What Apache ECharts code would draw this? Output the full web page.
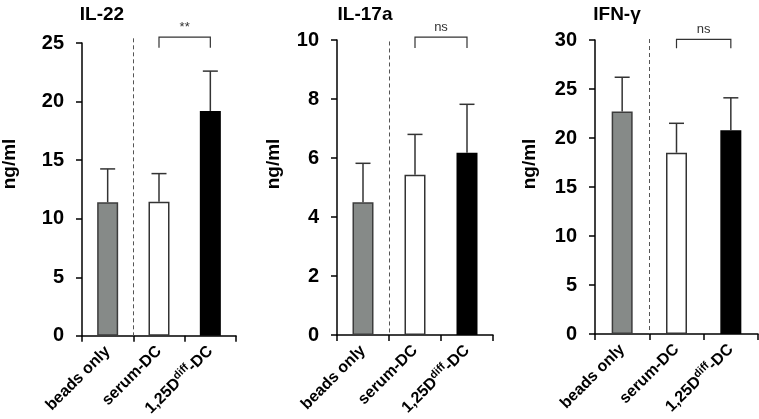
<!DOCTYPE html>
<html>
<head>
<meta charset="utf-8">
<script src="https://cdn.jsdelivr.net/npm/echarts@6/dist/echarts.min.js"></script>
<style>html,body{margin:0;padding:0;background:#fff;}#c{width:759px;height:419px;}</style>
</head>
<body>
<div id="c"></div>
<script>
var categories = ['beads only', 'serum-DC', '1,25D{sup|diff}-DC'];
var titles = ['IL-22', 'IL-17a', 'IFN-γ'];
var il22 = [11.4, 11.45, 19.2];
var il22Sd = [2.85, 2.4, 3.4];
var il17a = [4.5, 5.43, 6.18];
var il17aSd = [1.32, 1.37, 1.64];
var ifng = [22.7, 18.5, 20.8];
var ifngSd = [3.5, 3.0, 3.3];
var yMax = [25, 10, 30];
var yInterval = [5, 2, 5];
var sigLabels = ['**', 'ns', 'ns'];
var bracketTop = [25.5, 10.1, 30.07];
var bracketLeg = [24.6, 9.73, 29.15];
var dividerTop = [25.4, 9.95, 30.1];

var values = [il22, il17a, ifng];
var sds = [il22Sd, il17aSd, ifngSd];
var barFill = ['#868a88', '#ffffff', '#000000'];
var barBorder = ['#3c3c3c', '#333333', '#000000'];

var grids = [
  {left: 82, width: 154, top: 43, height: 293},
  {left: 337, width: 156, top: 40, height: 295},
  {left: 595, width: 163, top: 40, height: 294}
];
var titleX = [97, 360, 612];
var unitX = [10, 274, 530];
var FONT = '"Liberation Sans", Arial, sans-serif';

var option = {
  animation: false,
  title: [], grid: [], xAxis: [], yAxis: [], series: [], graphic: []
};
var sigLabelsRef = {};

for (var p = 0; p < 3; p++) {
  option.title.push({
    text: titles[p], left: titleX[p], top: 0, textAlign: 'center',
    textStyle: {fontFamily: FONT, fontWeight: 'bold', fontSize: 19, color: '#000'}
  });
  option.graphic.push({
    type: 'text', x: unitX[p], y: 164, rotation: Math.PI / 2,
    style: {text: 'ng/ml', fontFamily: FONT, fontWeight: 'bold', fontSize: 19, fill: '#000',
            align: 'center', verticalAlign: 'middle'}
  });
  option.grid.push(grids[p]);
  option.xAxis.push({
    type: 'category', gridIndex: p, data: categories,
    axisLine: {lineStyle: {color: '#000', width: 1.5}},
    axisTick: {show: true, length: 6, lineStyle: {color: '#000', width: 1.5}},
    axisLabel: {
      rotate: 45, margin: 13, interval: 0, color: '#000',
      fontFamily: FONT, fontWeight: 'bold', fontSize: 16,
      rich: {sup: {fontFamily: FONT, fontWeight: 'bold', fontSize: 11, verticalAlign: 'top', padding: [0, 0, 9, 0], color: '#000'}}
    }
  });
  option.yAxis.push({
    type: 'value', gridIndex: p, min: 0, max: yMax[p], interval: yInterval[p],
    splitLine: {show: false},
    axisLine: {show: true, lineStyle: {color: '#000', width: 1.5}},
    axisTick: {show: true, length: 6, lineStyle: {color: '#000', width: 1.5}},
    axisLabel: {margin: 18, color: '#000', fontFamily: FONT, fontWeight: 'bold', fontSize: 20}
  });
  var barData = values[p].map(function (v, i) {
    return {value: v, itemStyle: {color: barFill[i], borderColor: barBorder[i], borderWidth: 1.5}};
  });
  option.series.push({
    type: 'bar', xAxisIndex: p, yAxisIndex: p, data: barData, barWidth: 21, z: 2
  });
  var errData = values[p].map(function (v, i) { return [i, v, v + sds[p][i]]; });
  option.series.push({
    type: 'custom', xAxisIndex: p, yAxisIndex: p, data: errData, z: 3, clip: false,
    renderItem: function (params, api) {
      var lo = api.coord([api.value(0), api.value(1)]);
      var hi = api.coord([api.value(0), api.value(2)]);
      var st = {stroke: '#333', lineWidth: 1.5};
      return {type: 'group', children: [
        {type: 'line', shape: {x1: lo[0], y1: lo[1], x2: hi[0], y2: hi[1]}, style: st},
        {type: 'line', shape: {x1: hi[0] - 7.5, y1: hi[1], x2: hi[0] + 7.5, y2: hi[1]}, style: st}
      ]};
    }
  });
  option.series.push({
    type: 'custom', xAxisIndex: p, yAxisIndex: p, data: [[0, dividerTop[p]]], z: 1, clip: false,
    renderItem: function (params, api) {
      var top = api.coord([0, api.value(1)]);
      var bot = api.coord([0, 0]);
      var half = api.size([1, 0])[0] / 2;
      var x = Math.round(top[0] + half) + 0.5;
      return {type: 'line', shape: {x1: x, y1: top[1], x2: x, y2: bot[1]},
              style: {stroke: '#555', lineWidth: 1, lineDash: [4, 3]}};
    }
  });
  sigLabelsRef[option.series.length] = sigLabels[p];
  option.series.push({
    type: 'custom', xAxisIndex: p, yAxisIndex: p,
    data: [[1, 2, bracketTop[p], bracketLeg[p]]], z: 3, clip: false,
    renderItem: function (params, api) {
      var p1 = api.coord([api.value(0), api.value(2)]);
      var p2 = api.coord([api.value(1), api.value(2)]);
      var leg = api.coord([api.value(0), api.value(3)]);
      var st = {stroke: '#333', lineWidth: 1.2, fill: null};
      var lbl = sigLabelsRef[params.seriesIndex];
      return {type: 'group', children: [
        {type: 'polyline', shape: {points: [[p1[0], leg[1]], [p1[0], p1[1]], [p2[0], p2[1]], [p2[0], leg[1]]]}, style: st},
        {type: 'text', x: (p1[0] + p2[0]) / 2, y: p1[1] - 3,
         style: {text: lbl, fontFamily: FONT, fontSize: 13, fill: '#333', align: 'center', verticalAlign: 'bottom'}}
      ]};
    }
  });
}

var chart = echarts.init(document.getElementById('c'), null, {renderer: 'canvas'});
chart.setOption(option);
</script>
</body>
</html>
